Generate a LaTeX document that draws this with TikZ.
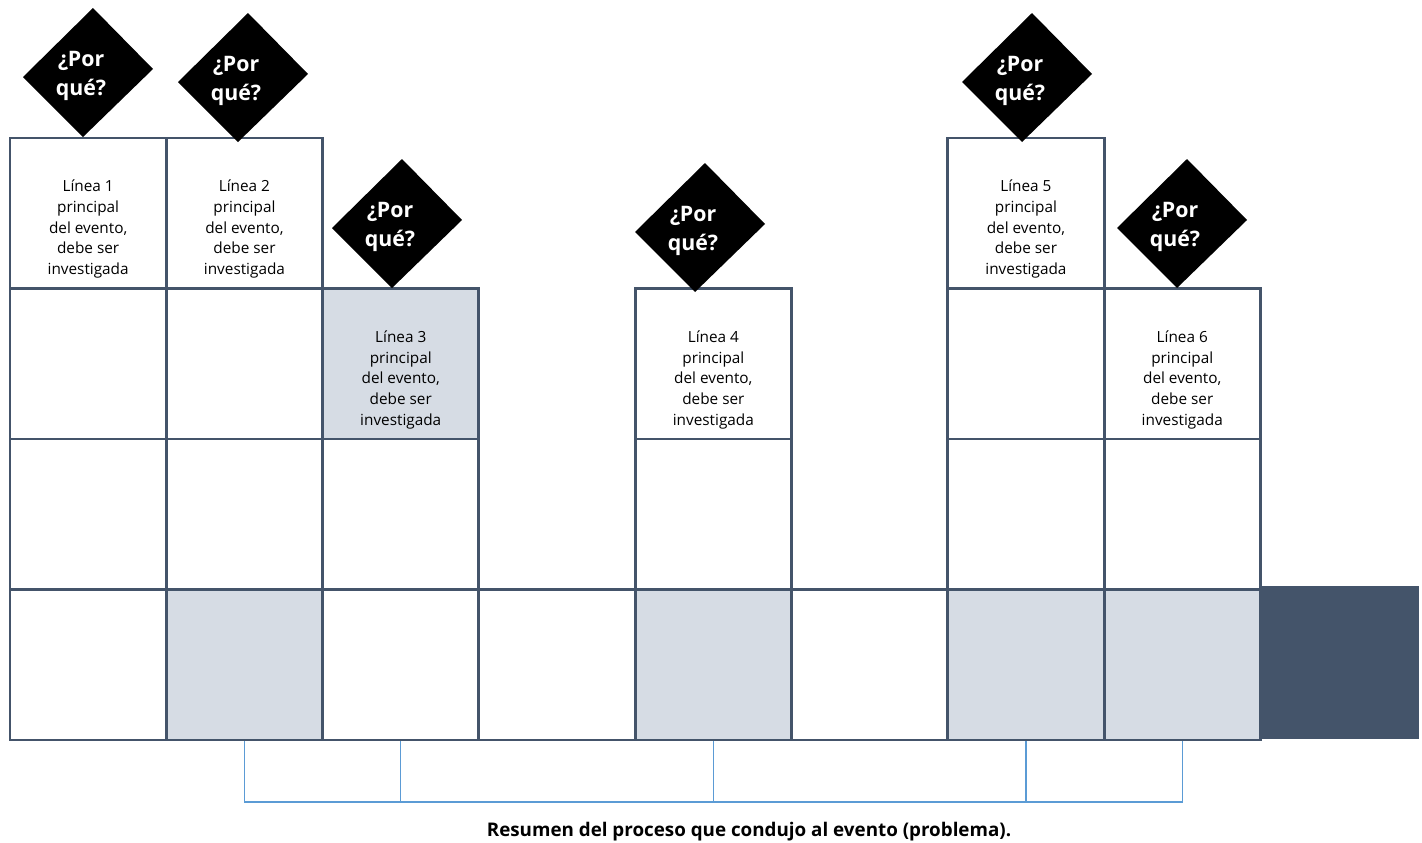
\documentclass[tikz,border=0pt]{standalone}
\usepackage{fontspec}
\setmainfont{Open Sans}
\usetikzlibrary{calc}
\definecolor{slate}{HTML}{44546A}
\definecolor{paleslate}{HTML}{D6DCE4}
\definecolor{bracketblue}{HTML}{5B9BD5}
\begin{document}
\begin{tikzpicture}[x=0.75pt,y=-0.75pt,
  cell/.style={draw=slate, line width=2.2pt, minimum width=117.2pt,
    minimum height=112.9pt, inner sep=0pt},
  celltext/.style={align=center, inner sep=0pt,
    font=\fontsize{11.5pt}{15.5pt}\selectfont},
  whytext/.style={align=center, inner sep=0pt, text=white,
    font=\bfseries\fontsize{16pt}{21.75pt}\selectfont},
  bracket/.style={draw=bracketblue, line width=0.9pt},
  summary/.style={font=\bfseries\fontsize{14.1pt}{16pt}\selectfont}]
\useasboundingbox (0,0) rectangle (1422,843);

% grid of cells: row/column/fill
\foreach \r/\c/\f in {1/1/white, 2/1/white, 3/1/white, 4/1/white,
                      1/2/white, 2/2/white, 3/2/white, 4/2/paleslate,
                      2/3/paleslate, 3/3/white, 4/3/white,
                      4/4/white,
                      2/5/white, 3/5/white, 4/5/paleslate,
                      4/6/white,
                      1/7/white, 2/7/white, 3/7/white, 4/7/paleslate,
                      2/8/white, 3/8/white, 4/8/paleslate}
  \node[cell, fill=\f] (c\r\c) at ({10+156.3*(\c-0.5)},{138+150.5*(\r-0.5)}) {};

% dark block at the end of the bottom row
\node[fill=slate, minimum width=118.5pt, minimum height=114.75pt, inner sep=0pt]
  (endblock) at (1340,662.5) {};

% main lines of the event
\foreach \n/\cl/\k in {t1/c11/1, t2/c12/2, t3/c23/3, t4/c25/4, t5/c17/5, t6/c28/6}
  \node[celltext] (\n) at ($(\cl.center)+(0,16)$)
    {Línea \k\\principal\\del evento,\\debe ser\\investigada};

% "why" diamonds
\foreach \n/\x/\y in {q1/88/73, q2/243/78, q3/397/224, q4/700/228, q5/1027/78, q6/1182/224} {
  \coordinate (\n) at (\x,\y);
  \fill[black] ($(\n)+(5,-65)$) -- ($(\n)+(65,-4)$) -- ($(\n)+(-5,64)$)
    -- ($(\n)+(-65,4)$) -- cycle;
  \node[whytext] (\n-txt) at ($(\n)+(-7,3)$) {¿Por\\qué?};
}

% summary bracket
\coordinate (brk) at (0,802);
\draw[bracket] (c42.south) -- (c42.south |- brk) -- (c48.south |- brk) -- (c48.south);
\foreach \k in {43,45,47}
  \draw[bracket] (c\k.south) -- (c\k.south |- brk);

\node[summary] (summary) at (749,832) {Resumen del proceso que condujo al evento (problema).};
\end{tikzpicture}
\end{document}
